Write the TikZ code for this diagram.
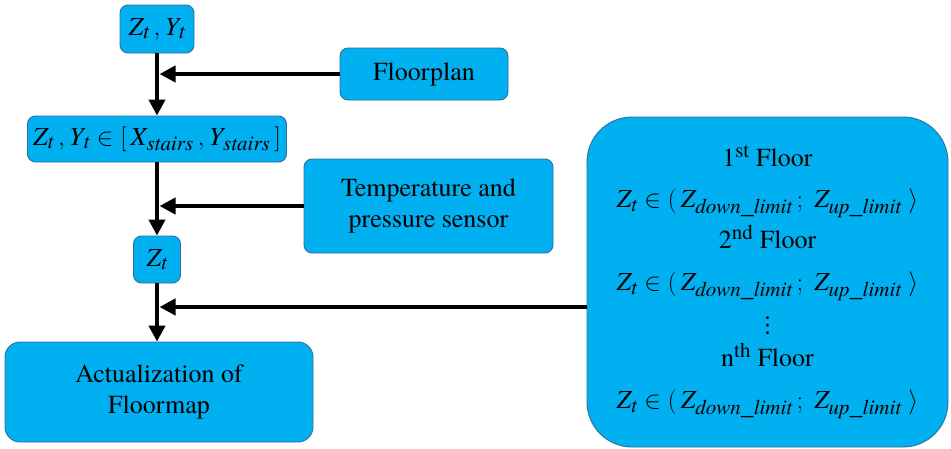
\documentclass[tikz,border=0pt]{standalone}
\usepackage{fontspec}
\setmainfont{TeX Gyre Termes}
\newfontfamily\dvsans{DejaVu Sans}
\usetikzlibrary{arrows.meta,calc}
\definecolor{boxfill}{RGB}{0,176,240}
\definecolor{boxline}{RGB}{47,110,160}
\DeclareMathSizes{26}{26}{21}{16}
\newcommand{\mZ}{\mathit{Z}}
\newcommand{\mY}{\mathit{Y}}
\newcommand{\mX}{\mathit{X}}
\newcommand{\zrange}{$\mZ_{\mathit{t}}\in\bigl(\,\mZ_{\mathit{down\_limit}}\,;\;\mZ_{\mathit{up\_limit}}\;\bigr\rangle$}
\newcommand{\floordots}{{\dvsans\fontsize{22}{22}\selectfont ⋮}}
\tikzset{
  blk/.style={draw=boxline, fill=boxfill, line width=0.9pt, rounded corners=8pt,
    inner sep=0pt, align=center, font=\fontsize{26}{31}\selectfont},
  flow/.style={line width=4.5pt, -{Triangle[length=16pt,width=16pt]}},
}
\begin{document}
\begin{tikzpicture}[x=1pt,y=-1pt]
\useasboundingbox (0,0) rectangle (951,448);
\node[blk, minimum width=74pt, minimum height=48pt] (b1) at (157,29) {$\mZ_{\mathit{t}}\,, \mY_{\mathit{t}}$};
\node[blk, minimum width=259pt, minimum height=46pt] (b2) at (157,139) {$\mZ_{\mathit{t}}\,, \mY_{\mathit{t}} \in \bigl[\,\mX_{\mathit{stairs}}\,, \mY_{\mathit{stairs}}\,\bigr]$};
\node[blk, minimum width=168pt, minimum height=52pt] (fp) at (424,74) {Floorplan};
\node[blk, minimum width=249pt, minimum height=94pt] (ts) at (428.5,206) {Temperature and\\pressure sensor};
\node[blk, minimum width=47pt, minimum height=47pt] (zt) at (157,259.5) {$\mZ_{\mathit{t}}$};
\node[blk, minimum width=308pt, minimum height=100pt, rounded corners=15pt] (act) at (159,392) {Actualization of\\Floormap};
\node[blk, minimum width=361pt, minimum height=330pt, rounded corners=45pt,
  font=\fontsize{26}{42}\selectfont] (big) at (767.5,282)
  {1\textsuperscript{st} Floor\\[-1pt]
   \zrange\\[-1pt]
   2\textsuperscript{nd} Floor\\
   \zrange\\
   \floordots\\[-8pt]
   n\textsuperscript{th} Floor\\
   \zrange};
\draw[flow] (b1.south) -- (b2.north);
\draw[flow] (b2.south) -- (zt.north);
\draw[flow] (zt.south) -- (zt.south |- act.north);
\draw[flow] (fp.west) -- ($(fp.west -| b1.south)+(2.5,0)$);
\draw[flow] (ts.west) -- ($(ts.west -| b1.south)+(2.5,0)$);
\draw[flow] (big.west |- 0,307) -- ($(0,307 -| zt.south)+(2.5,0)$);
\end{tikzpicture}
\end{document}
